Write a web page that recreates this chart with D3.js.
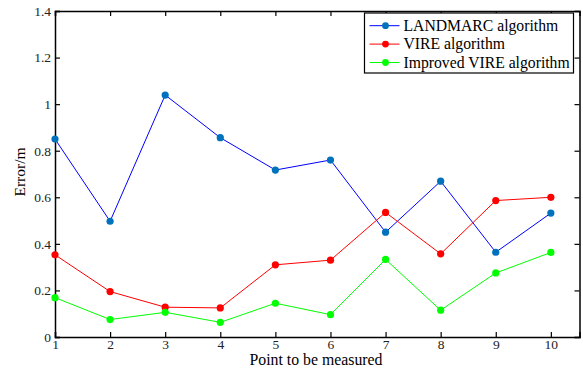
<!DOCTYPE html>
<html>
<head>
<meta charset="utf-8">
<script src="https://cdn.jsdelivr.net/npm/d3@7"></script>
<style>
  body { margin: 0; background: #fff; }
</style>
</head>
<body>
<div id="wrapper"></div>
<script>
const points = [1, 2, 3, 4, 5, 6, 7, 8, 9, 10];
const landmarc = [0.85, 0.497, 1.039, 0.856, 0.717, 0.76, 0.45, 0.669, 0.364, 0.532];
const vire = [0.353, 0.195, 0.128, 0.125, 0.31, 0.33, 0.535, 0.357, 0.586, 0.60];
const improved = [0.169, 0.075, 0.106, 0.063, 0.145, 0.096, 0.333, 0.115, 0.275, 0.363];
const yTicks = [0, 0.2, 0.4, 0.6, 0.8, 1, 1.2, 1.4];
const seriesNames = ["LANDMARC algorithm", "VIRE algorithm", "Improved VIRE algorithm"];

const FONT = "'Liberation Serif', 'Times New Roman', 'DejaVu Serif', serif";

const series = [
    { name: seriesNames[0], values: landmarc, line: "#0000ff", marker: "#0072bd" },
    { name: seriesNames[1], values: vire, line: "#ff0000", marker: "#ff0000" },
    { name: seriesNames[2], values: improved, line: "#00ff00", marker: "#00ff00" }
];

const dimension = {
    width: 583,
    height: 370,
    margin: { top: 11, left: 55, bottom: 33, right: 3.5 }
};
dimension.boundedWidth = dimension.width - dimension.margin.left - dimension.margin.right;
dimension.boundedHeight = dimension.height - dimension.margin.top - dimension.margin.bottom;

const svg = d3.select("#wrapper").append("svg")
    .attr("width", dimension.width)
    .attr("height", dimension.height)
    .style("font-family", FONT);

const bounded = svg.append("g")
    .attr("transform", `translate(${dimension.margin.left},${dimension.margin.top})`);

const xScaler = d3.scaleLinear()
    .domain([1, 10.52])
    .range([0, dimension.boundedWidth]);
const yScaler = d3.scaleLinear()
    .domain([0, 1.4])
    .range([dimension.boundedHeight, 0]);

// axes, ticks pointing inward, mirrored on top/right
const xAxis = d3.axisBottom(xScaler).tickValues(points).tickSize(-5).tickPadding(2).tickFormat(d3.format("d"));
const yAxis = d3.axisLeft(yScaler).tickValues(yTicks).tickSize(-5).tickPadding(4).tickFormat(d => d);

const gx = bounded.append("g").attr("transform", `translate(0,${dimension.boundedHeight})`).call(xAxis);
const gy = bounded.append("g").call(yAxis);
const gxTop = bounded.append("g").call(d3.axisTop(xScaler).tickValues(points).tickSize(-5).tickFormat(""));
const gyRight = bounded.append("g").attr("transform", `translate(${dimension.boundedWidth},0)`)
    .call(d3.axisRight(yScaler).tickValues(yTicks).tickSize(-5).tickFormat(""));

[gx, gy, gxTop, gyRight].forEach(g => {
    g.attr("font-family", null);
    g.select(".domain").attr("stroke", "#000").attr("stroke-width", 1.5);
    g.selectAll(".tick line").attr("stroke", "#000").attr("stroke-width", 1.2);
    g.selectAll(".tick text")
        .style("font-family", FONT)
        .style("font-size", "13.5px")
        .attr("fill", "#222");
});

// lines + markers
const lineGenerator = d3.line()
    .x((d, i) => xScaler(points[i]))
    .y(d => yScaler(d));

series.forEach(s => {
    bounded.append("path")
        .datum(s.values)
        .attr("fill", "none")
        .attr("stroke", s.line)
        .attr("stroke-width", 1)
        .attr("d", lineGenerator);
    bounded.selectAll(null)
        .data(s.values)
        .join("circle")
        .attr("cx", (d, i) => xScaler(points[i]))
        .attr("cy", d => yScaler(d))
        .attr("r", 3.6)
        .attr("fill", s.marker);
});

// legend
const legend = svg.append("g").attr("transform", "translate(364.5,13)");
legend.append("rect")
    .attr("width", 209).attr("height", 60)
    .attr("fill", "#fff").attr("stroke", "#000").attr("stroke-width", 1.2);
series.forEach((s, i) => {
    const y = 12.7 + i * 18.4;
    legend.append("line").attr("x1", 5).attr("x2", 35).attr("y1", y).attr("y2", y)
        .attr("stroke", s.line).attr("stroke-width", 1);
    legend.append("circle").attr("cx", 21).attr("cy", y).attr("r", 3.4).attr("fill", s.marker);
    legend.append("text").attr("x", 39).attr("y", y + 5)
        .style("font-family", FONT)
        .style("font-size", "15.7px").text(s.name);
});

// axis titles
svg.append("text")
    .attr("x", 316)
    .attr("y", 365)
    .attr("text-anchor", "middle")
    .style("font-family", FONT)
    .style("font-size", "15.8px")
    .text("Point to be measured");
svg.append("text")
    .attr("transform", `translate(25,172) rotate(-90)`)
    .attr("text-anchor", "middle")
    .style("font-family", FONT)
    .style("font-size", "15.5px")
    .text("Error/m");
</script>
</body>
</html>
